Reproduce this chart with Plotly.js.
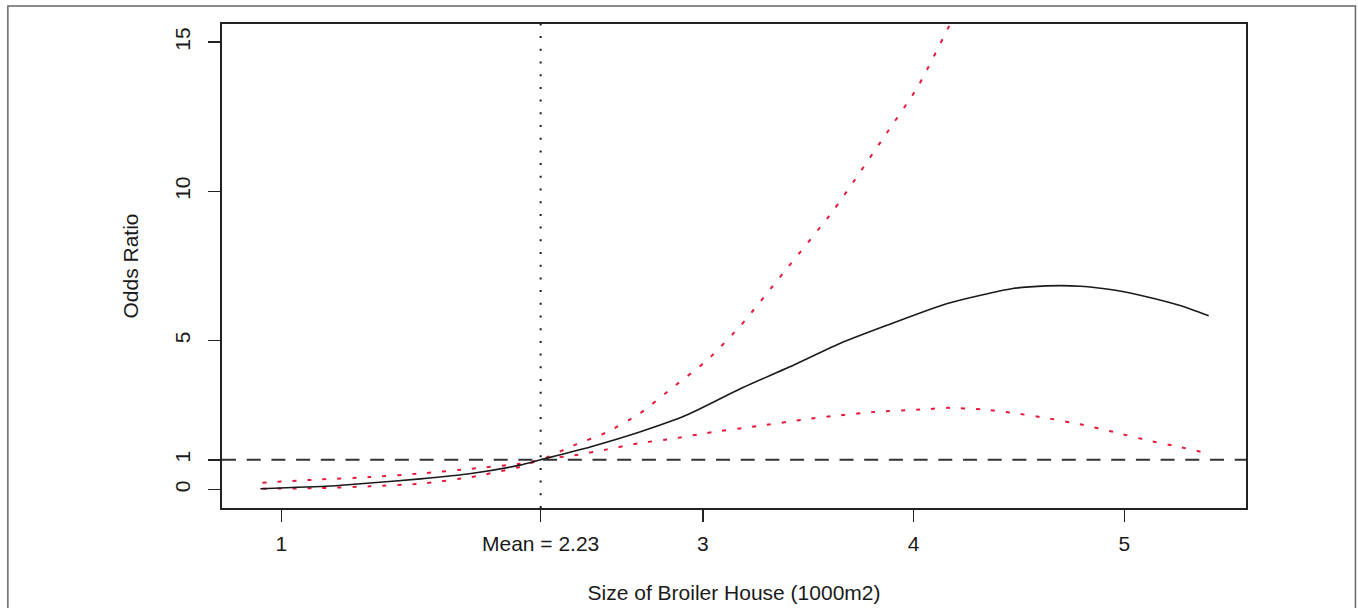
<!DOCTYPE html>
<html>
<head>
<meta charset="utf-8">
<script src="https://cdn.plot.ly/plotly-3.0.1.min.js"></script>
<style>
  html, body { margin: 0; padding: 0; background: #ffffff; }
  #chart { width: 1358px; height: 608px; }
</style>
</head>
<body>
<div id="chart"></div>
<script>
// ---- Data ----
const estX = [0.90, 1.23, 1.42, 1.66, 1.90, 2.13, 2.23, 2.465, 2.70, 2.92, 3.18, 3.41, 3.65, 3.87, 4.16, 4.47, 4.63, 4.79, 4.95, 5.11, 5.26, 5.40];
const estY = [0.03, 0.12, 0.22, 0.36, 0.54, 0.82, 1.00, 1.43, 1.93, 2.49, 3.39, 4.11, 4.90, 5.50, 6.24, 6.74, 6.83, 6.82, 6.69, 6.46, 6.18, 5.83];

const upperX = [0.91, 1.18, 1.42, 1.66, 1.90, 2.13, 2.23, 2.39, 2.54, 2.70, 2.86, 3.02, 3.18, 3.38, 3.62, 3.86, 4.02, 4.18, 4.24];
const upperY = [0.23, 0.34, 0.42, 0.54, 0.70, 0.87, 1.00, 1.49, 1.91, 2.55, 3.44, 4.34, 5.51, 7.25, 9.37, 11.83, 13.51, 15.70, 16.50];

const lowerX = [0.91, 1.18, 1.42, 1.66, 1.90, 2.13, 2.23, 2.39, 2.54, 2.70, 2.86, 3.02, 3.26, 3.49, 3.65, 3.81, 4.05, 4.16, 4.32, 4.47, 4.63, 4.79, 4.95, 5.11, 5.26, 5.40];
const lowerY = [0.03, 0.05, 0.11, 0.20, 0.42, 0.76, 1.00, 1.15, 1.34, 1.56, 1.71, 1.90, 2.13, 2.36, 2.49, 2.60, 2.69, 2.74, 2.69, 2.57, 2.40, 2.19, 1.93, 1.65, 1.43, 1.21];

const meanX = 2.23;
const refOddsRatio = 1;

const xTickVals = [1, 2.23, 3, 4, 5];
const xTickText = ['1', 'Mean = 2.23', '3', '4', '5'];
const yTickVals = [0, 1, 5, 10, 15];
const yTickText = ['0', '1', '5', '10', '15'];

const xTitle = 'Size of Broiler House (1000m2)';
const yTitle = 'Odds Ratio';

// ---- Traces ----
const red = '#e8183a';
const traces = [
  { x: upperX, y: upperY, type: 'scatter', mode: 'lines', name: 'Upper 95% CI',
    line: { color: red, width: 2, dash: '4px,11px', shape: 'spline', smoothing: 0.6 }, hoverinfo: 'x+y' },
  { x: lowerX, y: lowerY, type: 'scatter', mode: 'lines', name: 'Lower 95% CI',
    line: { color: red, width: 2, dash: '4px,11px', shape: 'spline', smoothing: 0.6 }, hoverinfo: 'x+y' },
  { x: estX, y: estY, type: 'scatter', mode: 'lines', name: 'Odds ratio',
    line: { color: '#1a1a1a', width: 1.6, shape: 'spline', smoothing: 0.6 }, hoverinfo: 'x+y' }
];

const font = "'Liberation Sans', Arial, sans-serif";

const layout = {
  width: 1358, height: 608,
  margin: { l: 222, r: 112, t: 24, b: 100 },
  paper_bgcolor: '#ffffff', plot_bgcolor: '#ffffff',
  showlegend: false,
  font: { family: font, size: 21, color: '#1a1a1a' },
  xaxis: {
    range: [0.718, 5.577], showgrid: false, zeroline: false,
    showline: true, mirror: true, linecolor: '#222', linewidth: 1.6,
    tickmode: 'array', tickvals: xTickVals, ticktext: xTickText,
    ticks: 'outside', ticklen: 12, tickwidth: 1.6, tickcolor: '#222',
    ticklabelstandoff: 4,
    tickfont: { family: font, size: 21, color: '#1a1a1a' },
    title: { text: xTitle, standoff: 31, font: { family: font, size: 21, color: '#1a1a1a' } }
  },
  yaxis: {
    range: [-0.617, 15.61], showgrid: false, zeroline: false,
    showline: true, mirror: true, linecolor: '#222', linewidth: 1.6,
    tickmode: 'array', tickvals: yTickVals, ticktext: yTickText,
    ticks: 'outside', ticklen: 12, tickwidth: 1.6, tickcolor: '#222',
    tickangle: -90, ticklabelstandoff: 10,
    tickfont: { family: font, size: 21, color: '#1a1a1a' },
    title: { text: yTitle, standoff: 26, font: { family: font, size: 21, color: '#1a1a1a' } }
  },
  shapes: [
    { type: 'line', xref: 'x', yref: 'paper', x0: meanX, x1: meanX, y0: 0, y1: 1,
      line: { color: '#1a1a1a', width: 2, dash: '2px,10.7px' } },
    { type: 'line', xref: 'paper', yref: 'y', x0: 0, x1: 1, y0: refOddsRatio, y1: refOddsRatio,
      line: { color: '#333', width: 2, dash: '14px,10.7px' } },
    { type: 'rect', xref: 'paper', yref: 'paper', x0: -0.2091, x1: 1.1069, y0: -0.24, y1: 1.0372,
      line: { color: '#666', width: 1.5 }, fillcolor: 'rgba(0,0,0,0)', layer: 'below' }
  ]
};

Plotly.newPlot('chart', traces, layout, { displayModeBar: false, staticPlot: true });
</script>
</body>
</html>
